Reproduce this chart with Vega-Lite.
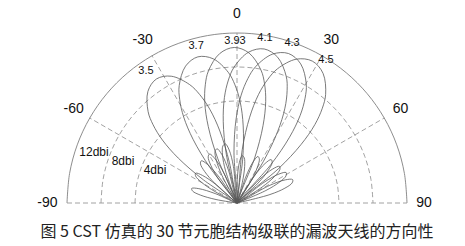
{
"$schema": "https://vega.github.io/schema/vega-lite/v6.json",
"width": 340, "height": 170,
"autosize": {"type": "none"},
"padding": {"left": 67, "top": 33, "right": 58, "bottom": 43},
"background": "white",
"config": {"view": {"stroke": null}},
"title": {"text": "图 5  CST 仿真的 30 节元胞结构级联的漏波天线的方向性", "orient": "bottom", "anchor": "middle", "frame": "group", "offset": 14, "font": "Noto Sans CJK SC", "fontSize": 16, "fontWeight": "normal", "color": "#222222"},
"datasets": {
"grid": [
{"g":12,"a":-90},{"g":12,"a":-80},{"g":12,"a":-70},{"g":12,"a":-60},{"g":12,"a":-50},{"g":12,"a":-40},{"g":12,"a":-30},{"g":12,"a":-20},{"g":12,"a":-10},{"g":12,"a":0},{"g":12,"a":10},{"g":12,"a":20},{"g":12,"a":30},{"g":12,"a":40},{"g":12,"a":50},{"g":12,"a":60},{"g":12,"a":70},{"g":12,"a":80},{"g":12,"a":90},
{"g":8,"a":-90},{"g":8,"a":-80},{"g":8,"a":-70},{"g":8,"a":-60},{"g":8,"a":-50},{"g":8,"a":-40},{"g":8,"a":-30},{"g":8,"a":-20},{"g":8,"a":-10},{"g":8,"a":0},{"g":8,"a":10},{"g":8,"a":20},{"g":8,"a":30},{"g":8,"a":40},{"g":8,"a":50},{"g":8,"a":60},{"g":8,"a":70},{"g":8,"a":80},{"g":8,"a":90},
{"g":4,"a":-90},{"g":4,"a":-80},{"g":4,"a":-70},{"g":4,"a":-60},{"g":4,"a":-50},{"g":4,"a":-40},{"g":4,"a":-30},{"g":4,"a":-20},{"g":4,"a":-10},{"g":4,"a":0},{"g":4,"a":10},{"g":4,"a":20},{"g":4,"a":30},{"g":4,"a":40},{"g":4,"a":50},{"g":4,"a":60},{"g":4,"a":70},{"g":4,"a":80},{"g":4,"a":90}
],
"spokes": [
{"k":"m60","i":0,"a":-60,"g":-8},{"k":"m60","i":1,"a":-60,"g":12},
{"k":"m30","i":0,"a":-30,"g":-8},{"k":"m30","i":1,"a":-30,"g":12},
{"k":"z","i":0,"a":0,"g":-8},{"k":"z","i":1,"a":0,"g":12},
{"k":"p30","i":0,"a":30,"g":-8},{"k":"p30","i":1,"a":30,"g":12},
{"k":"p60","i":0,"a":60,"g":-8},{"k":"p60","i":1,"a":60,"g":12},
{"k":"base","i":0,"a":-90,"g":12},{"k":"base","i":1,"a":90,"g":12}
],
"lobes": [
{"f":"3.5","i":0,"a":-83.4,"g":-8},{"f":"3.5","i":1,"a":-80.6,"g":-5.5},{"f":"3.5","i":2,"a":-77.8,"g":-3.6},{"f":"3.5","i":3,"a":-75,"g":-2.6},{"f":"3.5","i":4,"a":-72.2,"g":-2.4},{"f":"3.5","i":5,"a":-69.4,"g":-3.2},{"f":"3.5","i":6,"a":-66.6,"g":-5.2},{"f":"3.5","i":7,"a":-61,"g":-8},{"f":"3.5","i":8,"a":-55.4,"g":-3.2},{"f":"3.5","i":9,"a":-52.6,"g":0.7},{"f":"3.5","i":10,"a":-49.8,"g":3.5},{"f":"3.5","i":11,"a":-47,"g":5.5},{"f":"3.5","i":12,"a":-44.2,"g":7},{"f":"3.5","i":13,"a":-38.6,"g":8.8},{"f":"3.5","i":14,"a":-33,"g":9.4},{"f":"3.5","i":15,"a":-27.4,"g":8.8},{"f":"3.5","i":16,"a":-21.8,"g":7},{"f":"3.5","i":17,"a":-19,"g":5.5},{"f":"3.5","i":18,"a":-16.2,"g":3.5},{"f":"3.5","i":19,"a":-13.4,"g":0.7},{"f":"3.5","i":20,"a":-10.6,"g":-3.2},{"f":"3.5","i":21,"a":-5,"g":-8},{"f":"3.5","i":22,"a":0.6,"g":-5.2},{"f":"3.5","i":23,"a":3.4,"g":-3.2},{"f":"3.5","i":24,"a":6.2,"g":-2.4},{"f":"3.5","i":25,"a":9,"g":-2.6},{"f":"3.5","i":26,"a":11.8,"g":-3.6},{"f":"3.5","i":27,"a":14.6,"g":-5.5},{"f":"3.5","i":28,"a":17.4,"g":-8},
{"f":"3.7","i":0,"a":-65.4,"g":-8},{"f":"3.7","i":1,"a":-62.6,"g":-5.1},{"f":"3.7","i":2,"a":-59.8,"g":-3.2},{"f":"3.7","i":3,"a":-57,"g":-2.2},{"f":"3.7","i":4,"a":-54.2,"g":-2},{"f":"3.7","i":5,"a":-51.4,"g":-2.8},{"f":"3.7","i":6,"a":-48.6,"g":-4.8},{"f":"3.7","i":7,"a":-43,"g":-8},{"f":"3.7","i":8,"a":-37.4,"g":-2.8},{"f":"3.7","i":9,"a":-34.6,"g":1.1},{"f":"3.7","i":10,"a":-31.8,"g":3.9},{"f":"3.7","i":11,"a":-29,"g":5.9},{"f":"3.7","i":12,"a":-26.2,"g":7.4},{"f":"3.7","i":13,"a":-20.6,"g":9.2},{"f":"3.7","i":14,"a":-15,"g":9.8},{"f":"3.7","i":15,"a":-9.4,"g":9.2},{"f":"3.7","i":16,"a":-3.8,"g":7.4},{"f":"3.7","i":17,"a":-1,"g":5.9},{"f":"3.7","i":18,"a":1.8,"g":3.9},{"f":"3.7","i":19,"a":4.6,"g":1.1},{"f":"3.7","i":20,"a":7.4,"g":-2.8},{"f":"3.7","i":21,"a":13,"g":-8},{"f":"3.7","i":22,"a":18.6,"g":-4.8},{"f":"3.7","i":23,"a":21.4,"g":-2.8},{"f":"3.7","i":24,"a":24.2,"g":-2},{"f":"3.7","i":25,"a":27,"g":-2.2},{"f":"3.7","i":26,"a":29.8,"g":-3.2},{"f":"3.7","i":27,"a":32.6,"g":-5.1},{"f":"3.7","i":28,"a":35.4,"g":-8},
{"f":"3.93","i":0,"a":-51.4,"g":-8},{"f":"3.93","i":1,"a":-48.6,"g":-4.6},{"f":"3.93","i":2,"a":-45.8,"g":-2.7},{"f":"3.93","i":3,"a":-43,"g":-1.7},{"f":"3.93","i":4,"a":-40.2,"g":-1.5},{"f":"3.93","i":5,"a":-37.4,"g":-2.3},{"f":"3.93","i":6,"a":-34.6,"g":-4.3},{"f":"3.93","i":7,"a":-29,"g":-8},{"f":"3.93","i":8,"a":-23.4,"g":-2.3},{"f":"3.93","i":9,"a":-20.6,"g":1.6},{"f":"3.93","i":10,"a":-17.8,"g":4.4},{"f":"3.93","i":11,"a":-15,"g":6.4},{"f":"3.93","i":12,"a":-12.2,"g":7.9},{"f":"3.93","i":13,"a":-6.6,"g":9.7},{"f":"3.93","i":14,"a":-1,"g":10.3},{"f":"3.93","i":15,"a":4.6,"g":9.7},{"f":"3.93","i":16,"a":10.2,"g":7.9},{"f":"3.93","i":17,"a":13,"g":6.4},{"f":"3.93","i":18,"a":15.8,"g":4.4},{"f":"3.93","i":19,"a":18.6,"g":1.6},{"f":"3.93","i":20,"a":21.4,"g":-2.3},{"f":"3.93","i":21,"a":27,"g":-8},{"f":"3.93","i":22,"a":32.6,"g":-4.3},{"f":"3.93","i":23,"a":35.4,"g":-2.3},{"f":"3.93","i":24,"a":38.2,"g":-1.5},{"f":"3.93","i":25,"a":41,"g":-1.7},{"f":"3.93","i":26,"a":43.8,"g":-2.7},{"f":"3.93","i":27,"a":46.6,"g":-4.6},{"f":"3.93","i":28,"a":49.4,"g":-8},
{"f":"4.1","i":0,"a":-40.4,"g":-8},{"f":"4.1","i":1,"a":-37.6,"g":-4.5},{"f":"4.1","i":2,"a":-34.8,"g":-2.6},{"f":"4.1","i":3,"a":-32,"g":-1.6},{"f":"4.1","i":4,"a":-29.2,"g":-1.4},{"f":"4.1","i":5,"a":-26.4,"g":-2.2},{"f":"4.1","i":6,"a":-23.6,"g":-4.2},{"f":"4.1","i":7,"a":-18,"g":-8},{"f":"4.1","i":8,"a":-12.4,"g":-2.2},{"f":"4.1","i":9,"a":-9.6,"g":1.7},{"f":"4.1","i":10,"a":-6.8,"g":4.5},{"f":"4.1","i":11,"a":-4,"g":6.5},{"f":"4.1","i":12,"a":-1.2,"g":8},{"f":"4.1","i":13,"a":4.4,"g":9.8},{"f":"4.1","i":14,"a":10,"g":10.4},{"f":"4.1","i":15,"a":15.6,"g":9.8},{"f":"4.1","i":16,"a":21.2,"g":8},{"f":"4.1","i":17,"a":24,"g":6.5},{"f":"4.1","i":18,"a":26.8,"g":4.5},{"f":"4.1","i":19,"a":29.6,"g":1.7},{"f":"4.1","i":20,"a":32.4,"g":-2.2},{"f":"4.1","i":21,"a":38,"g":-8},{"f":"4.1","i":22,"a":43.6,"g":-4.2},{"f":"4.1","i":23,"a":46.4,"g":-2.2},{"f":"4.1","i":24,"a":49.2,"g":-1.4},{"f":"4.1","i":25,"a":52,"g":-1.6},{"f":"4.1","i":26,"a":54.8,"g":-2.6},{"f":"4.1","i":27,"a":57.6,"g":-4.5},{"f":"4.1","i":28,"a":60.4,"g":-8},
{"f":"4.3","i":0,"a":-31.4,"g":-8},{"f":"4.3","i":1,"a":-28.6,"g":-4.3},{"f":"4.3","i":2,"a":-25.8,"g":-2.4},{"f":"4.3","i":3,"a":-23,"g":-1.4},{"f":"4.3","i":4,"a":-20.2,"g":-1.2},{"f":"4.3","i":5,"a":-17.4,"g":-2},{"f":"4.3","i":6,"a":-14.6,"g":-4},{"f":"4.3","i":7,"a":-9,"g":-8},{"f":"4.3","i":8,"a":-3.4,"g":-2},{"f":"4.3","i":9,"a":-0.6,"g":1.9},{"f":"4.3","i":10,"a":2.2,"g":4.7},{"f":"4.3","i":11,"a":5,"g":6.7},{"f":"4.3","i":12,"a":7.8,"g":8.2},{"f":"4.3","i":13,"a":13.4,"g":10},{"f":"4.3","i":14,"a":19,"g":10.6},{"f":"4.3","i":15,"a":24.6,"g":10},{"f":"4.3","i":16,"a":30.2,"g":8.2},{"f":"4.3","i":17,"a":33,"g":6.7},{"f":"4.3","i":18,"a":35.8,"g":4.7},{"f":"4.3","i":19,"a":38.6,"g":1.9},{"f":"4.3","i":20,"a":41.4,"g":-2},{"f":"4.3","i":21,"a":47,"g":-8},{"f":"4.3","i":22,"a":52.6,"g":-4},{"f":"4.3","i":23,"a":55.4,"g":-2},{"f":"4.3","i":24,"a":58.2,"g":-1.2},{"f":"4.3","i":25,"a":61,"g":-1.4},{"f":"4.3","i":26,"a":63.8,"g":-2.4},{"f":"4.3","i":27,"a":66.6,"g":-4.3},{"f":"4.3","i":28,"a":69.4,"g":-8},
{"f":"4.5","i":0,"a":-22.4,"g":-8},{"f":"4.5","i":1,"a":-19.6,"g":-4},{"f":"4.5","i":2,"a":-16.8,"g":-2.1},{"f":"4.5","i":3,"a":-14,"g":-1.1},{"f":"4.5","i":4,"a":-11.2,"g":-0.9},{"f":"4.5","i":5,"a":-8.4,"g":-1.7},{"f":"4.5","i":6,"a":-5.6,"g":-3.7},{"f":"4.5","i":7,"a":0,"g":-8},{"f":"4.5","i":8,"a":5.6,"g":-1.7},{"f":"4.5","i":9,"a":8.4,"g":2.2},{"f":"4.5","i":10,"a":11.2,"g":5},{"f":"4.5","i":11,"a":14,"g":7},{"f":"4.5","i":12,"a":16.8,"g":8.5},{"f":"4.5","i":13,"a":22.4,"g":10.3},{"f":"4.5","i":14,"a":28,"g":10.9},{"f":"4.5","i":15,"a":33.6,"g":10.3},{"f":"4.5","i":16,"a":39.2,"g":8.5},{"f":"4.5","i":17,"a":42,"g":7},{"f":"4.5","i":18,"a":44.8,"g":5},{"f":"4.5","i":19,"a":47.6,"g":2.2},{"f":"4.5","i":20,"a":50.4,"g":-1.7},{"f":"4.5","i":21,"a":56,"g":-8},{"f":"4.5","i":22,"a":61.6,"g":-3.7},{"f":"4.5","i":23,"a":64.4,"g":-1.7},{"f":"4.5","i":24,"a":67.2,"g":-0.9},{"f":"4.5","i":25,"a":70,"g":-1.1},{"f":"4.5","i":26,"a":72.8,"g":-2.1},{"f":"4.5","i":27,"a":75.6,"g":-4},{"f":"4.5","i":28,"a":78.4,"g":-8}
],
"labels": [
{"kind":"angle","t":"0","a":0,"g":14.2},{"kind":"angle","t":"-30","a":-30,"g":14.2},{"kind":"angle","t":"30","a":30,"g":14.2},{"kind":"angle","t":"-60","a":-60,"g":14.2},{"kind":"angle","t":"60","a":60,"g":14.2},{"kind":"angle","t":"-90","a":-90,"g":14.3},{"kind":"angle","t":"90","a":90,"g":14.0},
{"kind":"freq","t":"3.5","a":-34.6,"g":10.86},{"kind":"freq","t":"3.7","a":-14.6,"g":11.09},{"kind":"freq","t":"3.93","a":-0.7,"g":11.06},{"kind":"freq","t":"4.1","a":9.6,"g":11.69},{"kind":"freq","t":"4.3","a":19,"g":11.9},{"kind":"freq","t":"4.5","a":31.9,"g":11.81},
{"kind":"gain","t":"12dbi","a":-70.4,"g":9.86},{"kind":"gain","t":"8dbi","a":-69.8,"g":6.29},{"kind":"gain","t":"4dbi","a":-68.1,"g":2.4}
]
},
"layer": [
{"data": {"name": "grid"},
 "transform": [{"filter": "datum.g < 12"}, {"calculate": "(datum.g+8)*sin(datum.a*PI/180)", "as": "x"}, {"calculate": "(datum.g+8)*cos(datum.a*PI/180)", "as": "y"}],
 "mark": {"type": "line", "stroke": "#8c8c8c", "strokeWidth": 0.8, "strokeDash": [5, 3], "interpolate": "catmull-rom"},
 "encoding": {"x": {"field": "x", "type": "quantitative", "scale": {"domain": [-20, 20], "nice": false, "zero": false}, "axis": null},
  "y": {"field": "y", "type": "quantitative", "scale": {"domain": [0, 20], "nice": false, "zero": false}, "axis": null},
  "detail": {"field": "g"}, "order": {"field": "a", "type": "quantitative"}}},
{"data": {"name": "grid"},
 "transform": [{"filter": "datum.g == 12"}, {"calculate": "(datum.g+8)*sin(datum.a*PI/180)", "as": "x"}, {"calculate": "(datum.g+8)*cos(datum.a*PI/180)", "as": "y"}],
 "mark": {"type": "line", "stroke": "#808080", "strokeWidth": 0.9, "interpolate": "catmull-rom"},
 "encoding": {"x": {"field": "x", "type": "quantitative", "axis": null},
  "y": {"field": "y", "type": "quantitative", "axis": null},
  "order": {"field": "a", "type": "quantitative"}}},
{"data": {"name": "spokes"},
 "transform": [{"calculate": "(datum.g+8)*sin(datum.a*PI/180)", "as": "x"}, {"calculate": "(datum.g+8)*cos(datum.a*PI/180)", "as": "y"}],
 "mark": {"type": "line", "stroke": "#8c8c8c", "strokeWidth": 0.8, "strokeDash": [5, 3]},
 "encoding": {"x": {"field": "x", "type": "quantitative", "axis": null},
  "y": {"field": "y", "type": "quantitative", "axis": null},
  "detail": {"field": "k"}, "order": {"field": "i", "type": "quantitative"}}},
{"data": {"name": "lobes"},
 "transform": [{"calculate": "(datum.g+8)*sin(datum.a*PI/180)", "as": "x"}, {"calculate": "(datum.g+8)*cos(datum.a*PI/180)", "as": "y"}],
 "mark": {"type": "line", "stroke": "#585858", "strokeWidth": 0.8, "interpolate": "catmull-rom"},
 "encoding": {"x": {"field": "x", "type": "quantitative", "axis": null},
  "y": {"field": "y", "type": "quantitative", "axis": null},
  "detail": {"field": "f"}, "order": {"field": "i", "type": "quantitative"}}},
{"data": {"name": "labels"},
 "transform": [{"filter": "datum.kind == 'angle'"}, {"calculate": "(datum.g+8)*sin(datum.a*PI/180)", "as": "x"}, {"calculate": "(datum.g+8)*cos(datum.a*PI/180)", "as": "y"}],
 "mark": {"type": "text", "font": "Liberation Sans", "fontSize": 14, "color": "#111111", "align": "center", "baseline": "middle"},
 "encoding": {"x": {"field": "x", "type": "quantitative", "axis": null}, "y": {"field": "y", "type": "quantitative", "axis": null}, "text": {"field": "t"}}},
{"data": {"name": "labels"},
 "transform": [{"filter": "datum.kind == 'freq'"}, {"calculate": "(datum.g+8)*sin(datum.a*PI/180)", "as": "x"}, {"calculate": "(datum.g+8)*cos(datum.a*PI/180)", "as": "y"}],
 "mark": {"type": "text", "font": "Liberation Sans", "fontSize": 11, "color": "#111111", "align": "center", "baseline": "middle"},
 "encoding": {"x": {"field": "x", "type": "quantitative", "axis": null}, "y": {"field": "y", "type": "quantitative", "axis": null}, "text": {"field": "t"}}},
{"data": {"name": "labels"},
 "transform": [{"filter": "datum.kind == 'gain'"}, {"calculate": "(datum.g+8)*sin(datum.a*PI/180)", "as": "x"}, {"calculate": "(datum.g+8)*cos(datum.a*PI/180)", "as": "y"}],
 "mark": {"type": "text", "font": "Liberation Sans", "fontSize": 12, "color": "#111111", "align": "center", "baseline": "middle"},
 "encoding": {"x": {"field": "x", "type": "quantitative", "axis": null}, "y": {"field": "y", "type": "quantitative", "axis": null}, "text": {"field": "t"}}}
]
}
